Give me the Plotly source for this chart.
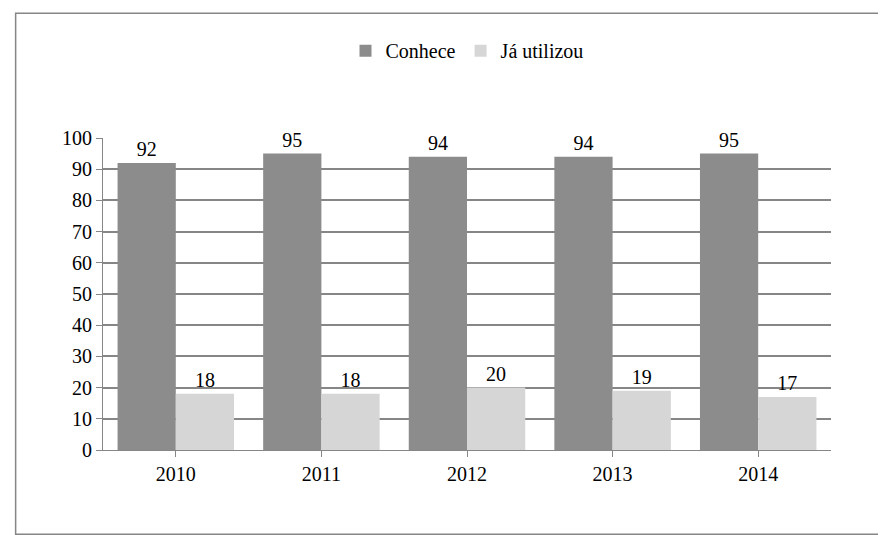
import plotly.graph_objects as go

years = ["2010", "2011", "2012", "2013", "2014"]
conhece = [92, 95, 94, 94, 95]
ja_utilizou = [18, 18, 20, 19, 17]

fig = go.Figure()
fig.add_trace(go.Bar(x=years, y=conhece, name="Conhece", marker=dict(color="#8c8c8c", line=dict(width=0)),
                     text=conhece, textposition="outside", cliponaxis=False,
                     textfont=dict(size=20, color="black")))
fig.add_trace(go.Bar(x=years, y=ja_utilizou, name="Já utilizou", marker=dict(color="#d6d6d6", line=dict(width=0)),
                     text=ja_utilizou, textposition="outside", cliponaxis=False,
                     textfont=dict(size=20, color="black")))
fig.update_layout(
    width=886, height=535, barmode="group", bargap=0.2, bargroupgap=0,
    paper_bgcolor="white", plot_bgcolor="white",
    font=dict(family="Liberation Serif", size=20, color="black"),
    margin=dict(l=95, r=63, t=130, b=93, autoexpand=False),
    legend=dict(orientation="h", x=0.5, xanchor="center", y=1.28, yanchor="middle",
                font=dict(size=20), bgcolor="rgba(0,0,0,0)"),
    xaxis=dict(showline=True, linecolor="#868686", ticks="outside", tickcolor="#868686", ticklen=6),
    yaxis=dict(range=[0, 100], dtick=10, showgrid=True, gridcolor="#868686", gridwidth=1.5,
               showline=True, linecolor="#868686", ticks="outside", tickcolor="#868686", ticklen=6),
    shapes=[dict(type="rect", xref="paper", yref="paper", x0=-0.12, x1=1.075, y0=-0.27, y1=1.4,
                 line=dict(color="#868686", width=1.5))],
)
fig.write_html("out.html")
